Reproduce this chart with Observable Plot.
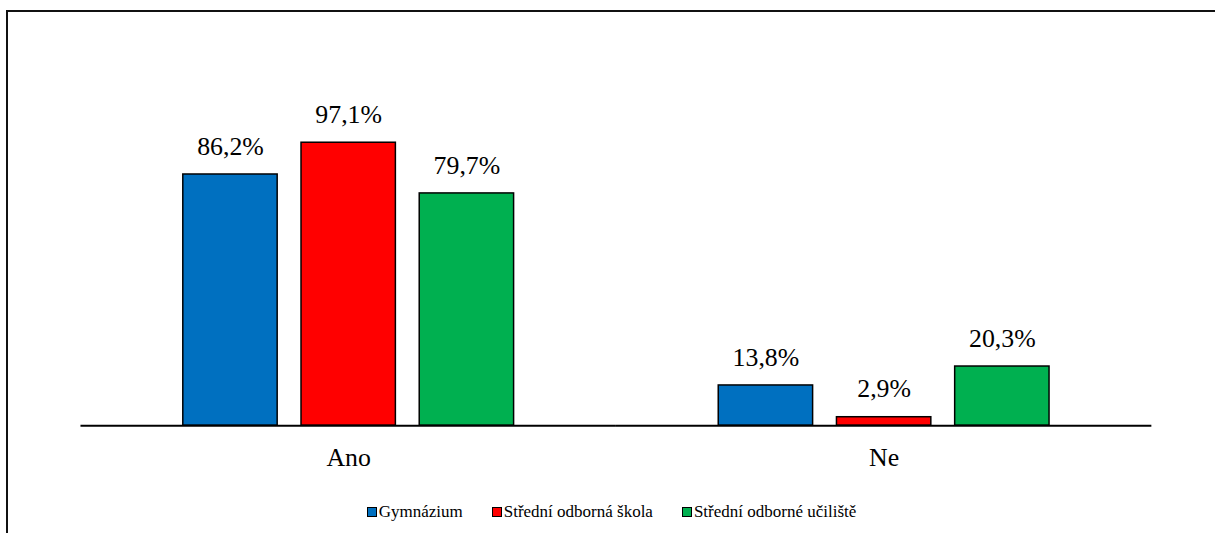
<!DOCTYPE html>
<html>
<head>
<meta charset="utf-8">
<script src="https://cdn.jsdelivr.net/npm/d3@7"></script>
<script src="https://cdn.jsdelivr.net/npm/@observablehq/plot@0.6"></script>
<style>
  body { margin: 0; }
  .a { font-family: 'Liberation Serif', serif; }
  #frame { margin-left: 6px; margin-top: 10px; width: 1209px; height: 600px; border-top: 2px solid #111; border-left: 2px solid #111; box-sizing: border-box; }
  #chart svg { display: block; margin-left: -8px; margin-top: -12px; }
  #legend { margin-top: 15px; display: flex; justify-content: center; gap: 29px; font-size: 17px; }
  .item { display: flex; align-items: center; }
  .sw { width: 8px; height: 8px; border: 1px solid #000; margin-right: 2px; }
</style>
</head>
<body>
<div id="frame" class="a">
  <div id="chart" class="a"></div>
  <div id="legend" class="a"></div>
</div>
<script>
const categories = ["Ano", "Ne"];
const schools = ["Gymnázium", "Střední odborná škola", "Střední odborné učiliště"];
const anoValues = [86.2, 97.1, 79.7];
const neValues = [13.8, 2.9, 20.3];
const colors = ["#0070C0", "#FF0000", "#00B050"];

const data = [];
schools.forEach((s, i) => data.push({cat: "Ano", school: s, value: anoValues[i]}));
schools.forEach((s, i) => data.push({cat: "Ne", school: s, value: neValues[i]}));

const fmt = v => v.toFixed(1).replace(".", ",") + "%";

const chart = Plot.plot({
  width: 1215,
  height: 490,
  marginLeft: 80,
  marginRight: 56,
  marginTop: 76,
  marginBottom: 62,
  style: {fontFamily: "Liberation Serif", color: "#000", background: "transparent", overflow: "visible"},
  fx: {domain: categories, padding: 0, label: null},
  x: {domain: schools, paddingInner: 0.205, paddingOuter: 0.86, axis: null},
  y: {domain: [0, 120], axis: null},
  color: {domain: schools, range: colors},
  marks: [
    Plot.barY(data, {fx: "cat", x: "school", y: "value", fill: "school", stroke: "#000", strokeWidth: 1.5}),
    Plot.text(data, {fx: "cat", x: "school", y: "value", text: d => fmt(d.value), lineAnchor: "bottom", dy: -20, fontSize: 26, fill: "#000"}),
    Plot.ruleY([0], {stroke: "#000", strokeWidth: 2}),
    Plot.axisFx({anchor: "bottom", tickSize: 0, tickPadding: 22, fontSize: 26, label: null})
  ]
});
document.getElementById("chart").appendChild(chart);

const legend = document.getElementById("legend");
schools.forEach((s, i) => {
  const it = document.createElement("div");
  it.className = "item a";
  const sw = document.createElement("span");
  sw.className = "sw";
  sw.style.background = colors[i];
  const t = document.createElement("span");
  t.className = "a";
  t.textContent = s;
  it.appendChild(sw);
  it.appendChild(t);
  legend.appendChild(it);
});
</script>
</body>
</html>
